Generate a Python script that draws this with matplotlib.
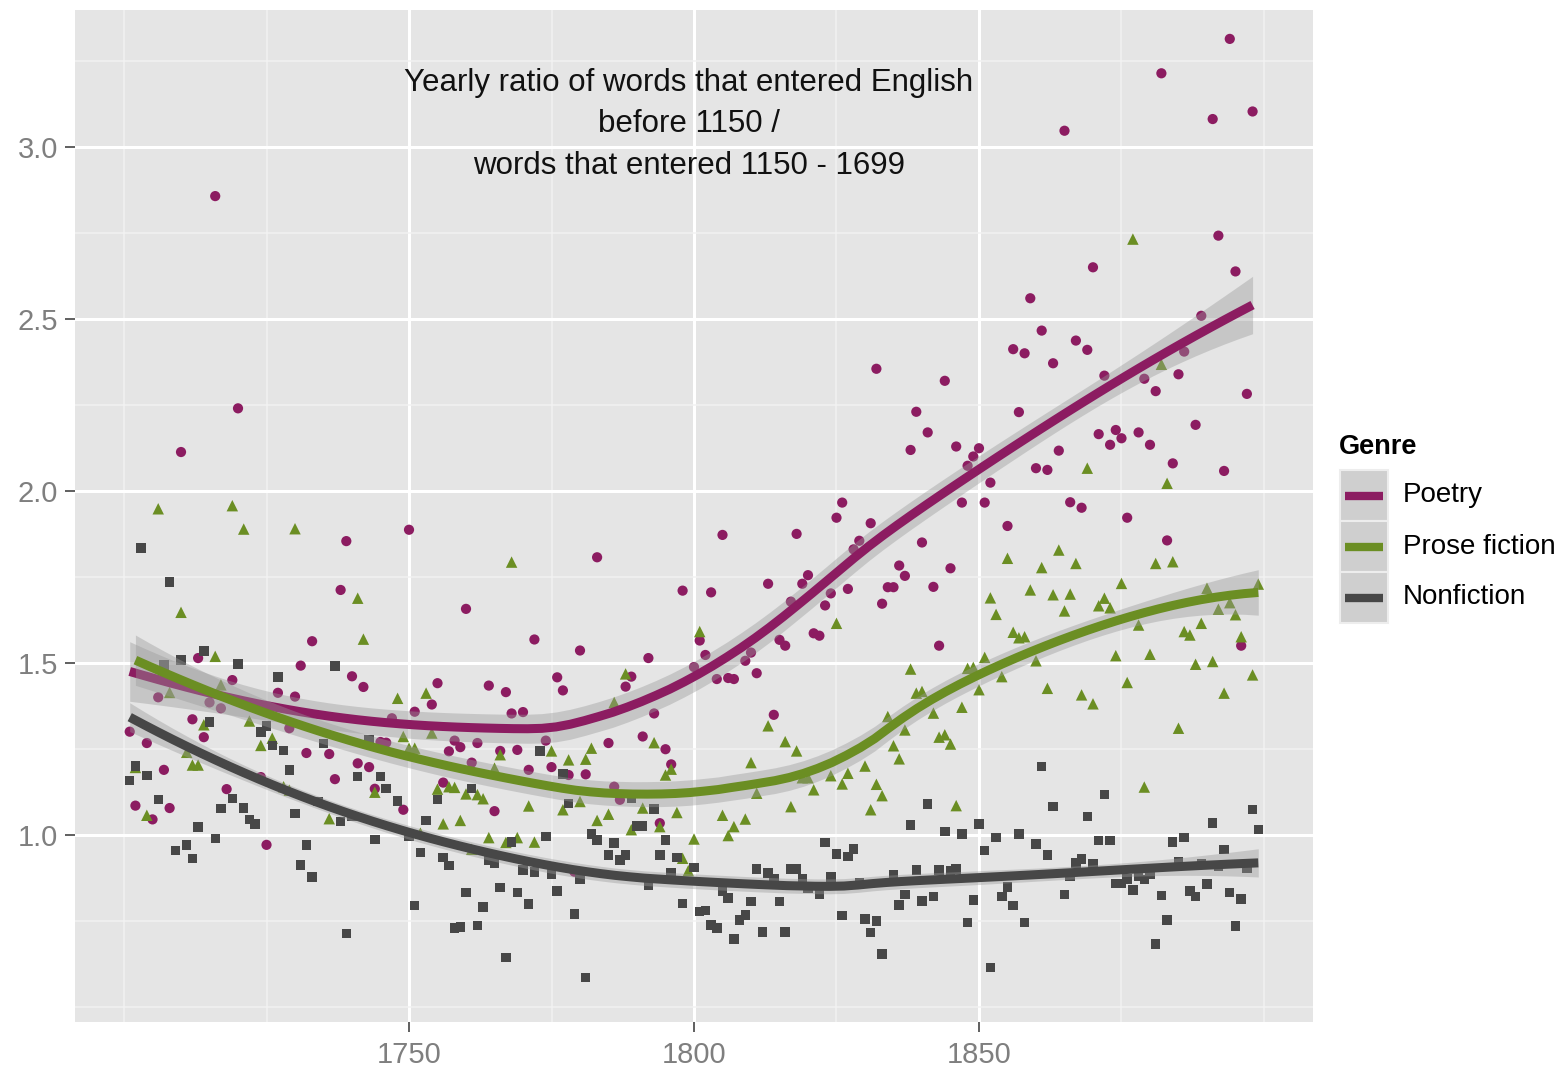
import numpy as np
import matplotlib
matplotlib.use("Agg")
import matplotlib.pyplot as plt
from matplotlib.patches import Rectangle
from matplotlib.lines import Line2D

# ---------------- data ----------------
genres = ["Poetry", "Prose fiction", "Nonfiction"]

poetry_year = [1701, 1702, 1704, 1705, 1706, 1707, 1708, 1710, 1712, 1713, 1714, 1715, 1716, 1717, 1718, 1719, 1720,
               1724, 1725, 1727, 1729, 1730, 1731, 1732, 1733, 1736, 1737, 1738, 1739, 1740, 1741, 1742, 1743, 1744,
               1745, 1746, 1747, 1749, 1750, 1751, 1754, 1755, 1756, 1757, 1758, 1759, 1760, 1761, 1762, 1764, 1765,
               1766, 1767, 1768, 1769, 1770, 1771, 1772, 1774, 1775, 1776, 1777, 1778, 1779, 1780, 1781, 1783, 1785,
               1786, 1787, 1788, 1789, 1791, 1792, 1793, 1794, 1795, 1796, 1798, 1800, 1801, 1802, 1803, 1804, 1805,
               1806, 1807, 1809, 1810, 1811, 1813, 1814, 1815, 1816, 1817, 1818, 1819, 1820, 1821, 1822, 1823, 1824,
               1825, 1826, 1827, 1828, 1829, 1831, 1832, 1833, 1834, 1835, 1836, 1837, 1838, 1839, 1840, 1841, 1842,
               1843, 1844, 1845, 1846, 1847, 1848, 1849, 1850, 1851, 1852, 1855, 1856, 1857, 1858, 1859, 1860, 1861,
               1862, 1863, 1864, 1865, 1866, 1867, 1868, 1869, 1870, 1871, 1872, 1873, 1874, 1875, 1876, 1878, 1879,
               1880, 1881, 1882, 1883, 1884, 1885, 1886, 1888, 1889, 1891, 1892, 1893, 1894, 1895, 1896, 1897, 1898]
poetry_ratio = [1.300, 1.085, 1.267, 1.045, 1.400, 1.189, 1.078, 2.113, 1.336, 1.514, 1.284, 1.385, 2.857, 1.368,
                1.133, 1.450, 2.240, 1.168, 0.971, 1.413, 1.310, 1.402, 1.492, 1.238, 1.563, 1.235, 1.162, 1.712,
                1.854, 1.461, 1.208, 1.430, 1.197, 1.134, 1.270, 1.268, 1.339, 1.073, 1.887, 1.358, 1.379, 1.441,
                1.152, 1.243, 1.274, 1.255, 1.657, 1.210, 1.267, 1.434, 1.069, 1.244, 1.415, 1.353, 1.247, 1.357,
                1.189, 1.568, 1.274, 1.197, 1.458, 1.420, 1.174, 0.893, 1.536, 1.176, 1.807, 1.267, 1.140, 1.102,
                1.431, 1.460, 1.286, 1.514, 1.353, 1.034, 1.249, 1.205, 1.710, 1.488, 1.565, 1.523, 1.705, 1.453,
                1.872, 1.456, 1.453, 1.506, 1.530, 1.470, 1.730, 1.349, 1.567, 1.550, 1.678, 1.875, 1.730, 1.755,
                1.586, 1.579, 1.667, 1.702, 1.922, 1.966, 1.715, 1.830, 1.855, 1.906, 2.355, 1.672, 1.720, 1.720,
                1.783, 1.753, 2.119, 2.230, 1.850, 2.170, 1.721, 1.550, 2.320, 1.775, 2.129, 1.966, 2.073, 2.100,
                2.124, 1.966, 2.024, 1.898, 2.412, 2.229, 2.400, 2.560, 2.066, 2.466, 2.061, 2.371, 2.117, 3.047,
                1.967, 2.437, 1.951, 2.410, 2.650, 2.165, 2.335, 2.134, 2.177, 2.153, 1.922, 2.170, 2.326, 2.134,
                2.290, 3.214, 1.856, 2.080, 2.339, 2.405, 2.192, 2.509, 3.081, 2.742, 2.058, 3.314, 2.638, 1.550,
                2.282, 3.103]

prose_year = [1702, 1704, 1706, 1708, 1710, 1711, 1712, 1713, 1714, 1716, 1717, 1719, 1721, 1722, 1724, 1726, 1728,
              1729, 1730, 1736, 1741, 1742, 1744, 1748, 1749, 1750, 1751, 1752, 1753, 1754, 1755, 1756, 1757, 1758,
              1759, 1760, 1761, 1762, 1763, 1764, 1765, 1766, 1767, 1768, 1769, 1771, 1772, 1775, 1777, 1778, 1780,
              1781, 1782, 1783, 1785, 1786, 1788, 1789, 1791, 1793, 1794, 1795, 1796, 1797, 1798, 1799, 1800, 1801,
              1805, 1806, 1807, 1809, 1810, 1811, 1813, 1816, 1817, 1818, 1819, 1820, 1821, 1824, 1825, 1826, 1827,
              1830, 1831, 1832, 1833, 1834, 1835, 1836, 1837, 1838, 1839, 1840, 1842, 1843, 1844, 1845, 1846, 1847,
              1848, 1849, 1850, 1851, 1852, 1853, 1854, 1855, 1856, 1857, 1858, 1859, 1860, 1861, 1862, 1863, 1864,
              1865, 1866, 1867, 1868, 1869, 1870, 1871, 1872, 1873, 1874, 1875, 1876, 1877, 1878, 1879, 1880, 1881,
              1882, 1883, 1884, 1885, 1886, 1887, 1888, 1889, 1890, 1891, 1892, 1893, 1894, 1895, 1896, 1898, 1899]
prose_ratio = [1.196, 1.057, 1.948, 1.414, 1.647, 1.240, 1.203, 1.203, 1.320, 1.519, 1.436, 1.957, 1.889, 1.331,
               1.260, 1.281, 1.140, 1.130, 1.890, 1.047, 1.688, 1.569, 1.124, 1.397, 1.286, 1.252, 1.252, 1.005,
               1.412, 1.296, 1.133, 1.032, 1.140, 1.138, 1.042, 1.119, 0.958, 1.117, 1.105, 0.992, 1.194, 1.233,
               0.978, 1.793, 0.992, 1.084, 0.979, 1.244, 1.073, 1.218, 1.097, 1.220, 1.252, 1.042, 1.060, 1.385,
               1.468, 1.015, 1.078, 1.268, 1.024, 1.174, 1.191, 1.065, 0.932, 0.896, 0.988, 1.591, 1.057, 0.998,
               1.024, 1.046, 1.210, 1.121, 1.317, 1.271, 1.082, 1.244, 1.166, 1.166, 1.131, 1.172, 1.615, 1.148,
               1.179, 1.200, 1.073, 1.147, 1.114, 1.344, 1.259, 1.221, 1.305, 1.482, 1.412, 1.417, 1.354, 1.284,
               1.291, 1.264, 1.085, 1.371, 1.484, 1.487, 1.422, 1.516, 1.689, 1.641, 1.460, 1.804, 1.589, 1.573,
               1.576, 1.712, 1.506, 1.777, 1.426, 1.698, 1.828, 1.651, 1.700, 1.789, 1.407, 2.066, 1.381, 1.666,
               1.688, 1.660, 1.521, 1.731, 1.443, 2.732, 1.610, 1.139, 1.525, 1.789, 2.368, 2.022, 1.794, 1.310,
               1.591, 1.581, 1.496, 1.615, 1.717, 1.504, 1.656, 1.412, 1.675, 1.640, 1.576, 1.465, 1.729]

nonfic_year = [1701, 1702, 1703, 1704, 1706, 1707, 1708, 1709, 1710, 1711, 1712, 1713, 1714, 1715, 1716, 1717, 1719,
               1720, 1721, 1722, 1723, 1724, 1725, 1726, 1727, 1728, 1729, 1730, 1731, 1732, 1733, 1734, 1735, 1737,
               1738, 1739, 1740, 1741, 1743, 1744, 1745, 1746, 1748, 1750, 1751, 1752, 1753, 1755, 1756, 1757, 1758,
               1759, 1760, 1761, 1762, 1763, 1764, 1765, 1766, 1767, 1768, 1769, 1770, 1771, 1772, 1773, 1774, 1775,
               1776, 1777, 1778, 1779, 1780, 1781, 1782, 1783, 1785, 1786, 1787, 1788, 1789, 1790, 1791, 1792, 1793,
               1794, 1795, 1796, 1797, 1798, 1800, 1801, 1802, 1803, 1804, 1805, 1806, 1807, 1808, 1809, 1810, 1811,
               1812, 1813, 1814, 1815, 1816, 1817, 1818, 1819, 1820, 1822, 1823, 1824, 1825, 1826, 1827, 1828, 1829,
               1830, 1831, 1832, 1833, 1835, 1836, 1837, 1838, 1839, 1840, 1841, 1842, 1843, 1844, 1845, 1846, 1847,
               1848, 1849, 1850, 1851, 1852, 1853, 1854, 1855, 1856, 1857, 1858, 1860, 1861, 1862, 1863, 1865, 1866,
               1867, 1868, 1869, 1870, 1871, 1872, 1873, 1874, 1875, 1876, 1877, 1878, 1879, 1880, 1881, 1882, 1883,
               1884, 1885, 1886, 1887, 1888, 1889, 1890, 1891, 1892, 1893, 1894, 1895, 1896, 1897, 1898, 1899]
nonfic_ratio = [1.158, 1.200, 1.834, 1.172, 1.102, 1.494, 1.735, 0.954, 1.508, 0.971, 0.932, 1.023, 1.534, 1.328,
                0.990, 1.076, 1.105, 1.497, 1.078, 1.044, 1.031, 1.299, 1.317, 1.260, 1.459, 1.245, 1.189, 1.062,
                0.912, 0.971, 0.878, 1.097, 1.265, 1.491, 1.039, 0.713, 1.053, 1.170, 1.276, 0.987, 1.170, 1.134,
                1.098, 0.997, 0.794, 0.949, 1.041, 1.102, 0.935, 0.911, 0.729, 0.732, 0.833, 1.135, 0.736, 0.790,
                0.927, 0.918, 0.847, 0.644, 0.979, 0.833, 0.898, 0.799, 0.892, 1.244, 0.995, 0.886, 0.837, 1.177,
                1.092, 0.770, 0.872, 0.586, 1.002, 0.985, 0.942, 0.976, 0.927, 0.942, 1.107, 1.026, 1.026, 0.853,
                1.075, 0.942, 0.985, 0.889, 0.935, 0.801, 0.905, 0.777, 0.780, 0.738, 0.729, 0.835, 0.816, 0.697,
                0.753, 0.767, 0.806, 0.901, 0.718, 0.889, 0.872, 0.806, 0.718, 0.901, 0.901, 0.872, 0.845, 0.826,
                0.978, 0.877, 0.944, 0.765, 0.937, 0.959, 0.862, 0.756, 0.717, 0.750, 0.654, 0.884, 0.796, 0.826,
                1.029, 0.898, 0.808, 1.090, 0.821, 0.898, 1.010, 0.896, 0.901, 1.003, 0.745, 0.811, 1.032, 0.954,
                0.615, 0.992, 0.821, 0.848, 0.794, 1.002, 0.746, 0.974, 1.199, 0.942, 1.082, 0.826, 0.879, 0.918,
                0.930, 1.053, 0.915, 0.983, 1.118, 0.983, 0.858, 0.858, 0.872, 0.840, 0.881, 0.871, 0.884, 0.683,
                0.823, 0.753, 0.979, 0.922, 0.992, 0.837, 0.821, 0.916, 0.857, 1.034, 0.908, 0.958, 0.833, 0.735,
                0.813, 0.903, 1.073, 1.015]

title_lines = ["Yearly ratio of words that entered English", "before 1150 /", "words that entered 1150 - 1699"]
x_ticks = [1750, 1800, 1850]
x_minor = [1700, 1725, 1775, 1825, 1875, 1900]
y_ticks = [1.0, 1.5, 2.0, 2.5, 3.0]
y_minor = [0.5, 0.75, 1.25, 1.75, 2.25, 2.75, 3.25]

colors = ["#8C1C61", "#6B8E23", "#474747"]
markers = ["o", "^", "s"]
msizes = [54, 68, 46]


# ---------------- loess (degree 2, tricube, span 0.75) ----------------
def loess_operator(x, xs, span=0.75):
    x = np.asarray(x, float)
    n = len(x)
    q = int(np.floor(n * span))
    L = np.zeros((len(xs), n))
    for i, x0 in enumerate(xs):
        d = np.abs(x - x0)
        h = np.sort(d)[q - 1]
        w = np.clip(1 - (d / h) ** 3, 0, None) ** 3
        u = (x - x0) / 50.0
        X = np.column_stack([np.ones(n), u, u * u])
        XtW = X.T * w
        A = XtW @ X
        L[i] = np.linalg.solve(A, XtW)[0]
    return L


def loess_fit(x, y, n_out=80, span=0.75, mult=1.0):
    x = np.asarray(x, float)
    y = np.asarray(y, float)
    xs = np.linspace(x.min(), x.max(), n_out)
    Ld = loess_operator(x, x, span)
    R = np.eye(len(x)) - Ld
    RR = R.T @ R
    d1 = np.trace(RR)
    res = R @ y
    sigma = np.sqrt(np.sum(res ** 2) / d1)
    Lg = loess_operator(x, xs, span)
    fit = Lg @ y
    se = sigma * np.sqrt(np.sum(Lg ** 2, axis=1))
    return xs, fit, fit - mult * se, fit + mult * se


# ---------------- figure ----------------
W, H = 1564, 1071
fig = plt.figure(figsize=(W / 100, H / 100), dpi=100)
fig.patch.set_facecolor("white")
L0, R0, T0, B0 = 75, 1313, 10, 1022
ax = fig.add_axes([L0 / W, 1 - B0 / H, (R0 - L0) / W, (B0 - T0) / H])
ax.set_facecolor("#E5E5E5")
ax.set_xlim(1691.4, 1908.6)
ax.set_ylim(0.456, 3.398)
for s in ax.spines.values():
    s.set_visible(False)

ax.set_xticks(x_ticks)
ax.set_xticks(x_minor, minor=True)
ax.set_yticks(y_ticks)
ax.set_yticks(y_minor, minor=True)
ax.set_yticklabels([f"{v:.1f}" for v in y_ticks])
ax.set_xticklabels([str(v) for v in x_ticks])
ax.grid(which="major", color="white", linewidth=2.2)
ax.grid(which="minor", color="#F2F2F2", linewidth=1.1)
ax.set_axisbelow(True)
ax.tick_params(which="major", length=7, width=1.2, color="#444444", labelcolor="#7F7F7F",
               labelsize=21, pad=5)
ax.tick_params(axis="x", which="major", pad=7)
ax.tick_params(which="minor", length=0)
tick_font = ["Liberation Sans Narrow", "Liberation Sans", "DejaVu Sans"]
for lab in ax.get_xticklabels() + ax.get_yticklabels():
    lab.set_family(tick_font)

years = [poetry_year, prose_year, nonfic_year]
ratios = [poetry_ratio, prose_ratio, nonfic_ratio]

for k in range(3):
    ax.scatter(years[k], ratios[k], s=msizes[k], marker=markers[k], color=colors[k],
               edgecolors="none", zorder=2)

for k in range(3):
    xs, fit, lo, hi = loess_fit(years[k], ratios[k])
    ax.fill_between(xs, lo, hi, color="#999999", alpha=0.4, linewidth=0, zorder=3 + 2 * k)
    ax.plot(xs, fit, color=colors[k], linewidth=6.5, solid_capstyle="butt", zorder=4 + 2 * k)

ax.text(0.496, 0.887, "\n".join(title_lines), transform=ax.transAxes, ha="center", va="center",
        fontsize=22.5, family=["Liberation Sans", "DejaVu Sans"], color="#111111", linespacing=1.5,
        zorder=10)

# ---------------- legend (pixel overlay) ----------------
lay = fig.add_axes([0, 0, 1, 1], zorder=20)
lay.set_xlim(0, W)
lay.set_ylim(H, 0)
lay.axis("off")
lay.patch.set_alpha(0)
lay.text(1339, 447, "Genre", fontsize=19.5, fontweight="bold", ha="left", va="center",
         family=["Liberation Sans", "DejaVu Sans"], color="black")
for k, g in enumerate(genres):
    y0 = 470 + 51 * k
    lay.add_patch(Rectangle((1340, y0), 48, 51, facecolor="#CFCFCF", edgecolor="#EDEDED", linewidth=1.5))
    yc = y0 + 25.5
    lay.add_line(Line2D([1345, 1383], [yc, yc], color=colors[k], linewidth=6, solid_capstyle="butt"))
    lay.text(1403, yc, g, fontsize=20, ha="left", va="center",
             family=["Liberation Sans", "DejaVu Sans"], color="black")

fig.savefig("out.png", dpi=100)
